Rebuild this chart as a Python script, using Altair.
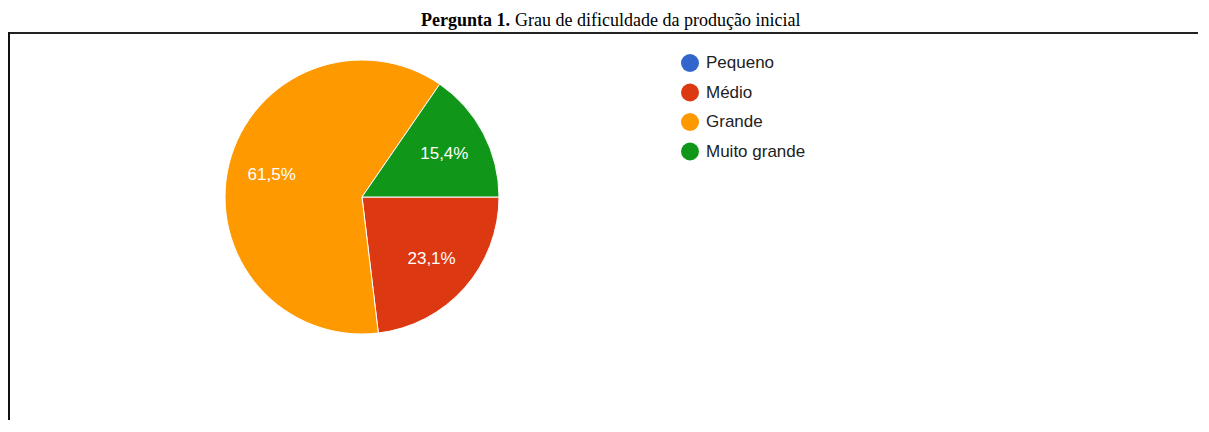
import math
import altair as alt
import pandas as pd

# ---- data ----
categories = ["Pequeno", "Médio", "Grande", "Muito grande"]
shares = [0.0, 23.1, 61.5, 15.4]
slice_labels = ["", "23,1%", "61,5%", "15,4%"]
colors = ["#3366cc", "#dc3912", "#ff9900", "#109618"]

title_bold = "Pergunta 1."
title_rest = "Grau de dificuldade da produção inicial"

df = pd.DataFrame({
    "categoria": categories,
    "share": shares,
    "rotulo": slice_labels,
    "ordem": list(range(len(categories))),
})

W, H = 1190, 412
CX, CY, R = 354, 189, 137
FONT = "Liberation Sans"

base = alt.Chart(df).encode(
    theta=alt.Theta("share:Q", stack=True,
                    scale=alt.Scale(range=[math.pi / 2, math.pi / 2 + 2 * math.pi])),
    order=alt.Order("ordem:Q"),
)

pie = base.mark_arc(radius=R, stroke="white", strokeWidth=1).encode(
    x=alt.value(CX),
    y=alt.value(CY),
    color=alt.Color(
        "categoria:N",
        scale=alt.Scale(domain=categories, range=colors),
        legend=alt.Legend(
            title=None, orient="none", legendX=673, legendY=46,
            symbolType="circle", symbolSize=324, symbolStrokeWidth=0,
            symbolOpacity=1, labelFontSize=17, labelFont=FONT,
            labelColor="#222222", rowPadding=11.5, labelOffset=7, padding=0,
        ),
    ),
)

text = base.mark_text(radius=93, color="white", fontSize=17, font=FONT).encode(
    x=alt.value(CX),
    y=alt.value(CY),
    text="rotulo:N",
)

one = pd.DataFrame({"a": [0]})
title_b = alt.Chart(pd.DataFrame({"t": [title_bold]})).mark_text(
    font="Liberation Serif", fontSize=18, fontWeight="bold", align="left",
    baseline="alphabetic", color="black",
).encode(text="t:N", x=alt.value(413), y=alt.value(18))
title_r = alt.Chart(pd.DataFrame({"t": [title_rest]})).mark_text(
    font="Liberation Serif", fontSize=18, align="left",
    baseline="alphabetic", color="black",
).encode(text="t:N", x=alt.value(507), y=alt.value(18))

LINE_Y = 25
top_line = alt.Chart(one).mark_rule(color="#222222", strokeWidth=2).encode(
    x=alt.value(0), x2=alt.value(W), y=alt.value(LINE_Y)
)
left_line = alt.Chart(one).mark_rule(color="#111111", strokeWidth=2).encode(
    x=alt.value(1), y=alt.value(LINE_Y - 1), y2=alt.value(H)
)

chart = alt.layer(top_line, left_line, pie, text, title_b, title_r).properties(
    width=W, height=H, padding=0, autosize="none"
).configure_view(stroke=None)

chart.save("out.html", embed_options={"renderer": "svg", "actions": False})
